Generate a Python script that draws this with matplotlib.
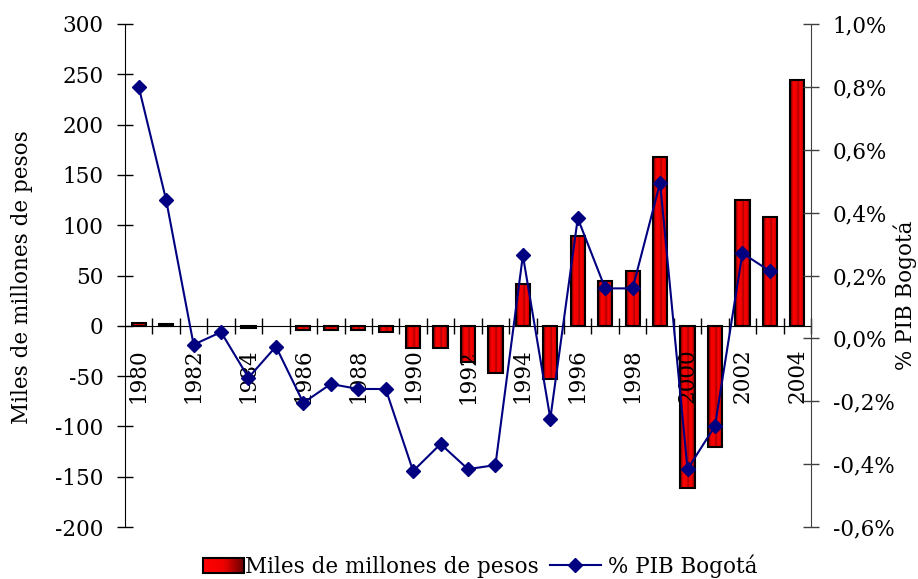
import numpy as np
import matplotlib
matplotlib.use("Agg")
import matplotlib.pyplot as plt
from matplotlib.colors import LinearSegmentedColormap
from matplotlib.patches import Rectangle
from matplotlib.lines import Line2D
from matplotlib.legend_handler import HandlerBase
from matplotlib.ticker import FuncFormatter

plt.rcParams['font.family'] = ['DejaVu Serif']
plt.rcParams['axes.unicode_minus'] = False

# Datos
years = list(range(1980, 2005))
miles_millones = [3, 1.5, 0, 0, -2, 0, -4, -4, -4, -6, -22, -22, -36, -47,
                  42, -53, 89, 45, 54, 168, -161, -120, 125, 108, 244]
pib_years = list(range(1980, 2004))
pct_pib = [0.80, 0.44, -0.02, 0.02, -0.125, -0.026, -0.205, -0.145, -0.161,
           -0.161, -0.422, -0.336, -0.416, -0.403, 0.264, -0.255, 0.382,
           0.159, 0.159, 0.495, -0.416, -0.279, 0.271, 0.214]

FS = 15.5
bar_cmap = LinearSegmentedColormap.from_list(
    'barras', [(0, '#5a0000'), (0.22, '#ff0000'), (0.45, '#f00000'),
               (0.55, '#a00000'), (0.65, '#ff0000'), (0.85, '#e00000'),
               (1, '#500000')])
leg_cmap = LinearSegmentedColormap.from_list('leyenda', ['#ff0000', '#f00000', '#6a0000'])


# Rectángulo con degradado para la leyenda
class GradHandler(HandlerBase):
    def create_artists(self, legend, orig_handle, xdescent, ydescent,
                       width, height, fontsize, trans):
        arts = []
        n = 40
        w = width * 0.8
        x0 = -xdescent + width - w + 4
        for i in range(n):
            arts.append(Rectangle((x0 + w * i / n, -ydescent),
                                  w / n + 0.2, height,
                                  facecolor=leg_cmap(i / (n - 1)),
                                  edgecolor='none', transform=trans))
        arts.append(Rectangle((x0, -ydescent), w, height,
                              facecolor='none', edgecolor='black', lw=1.5,
                              transform=trans))
        return arts


fig = plt.figure(figsize=(9.18, 5.79), dpi=100)
ax = fig.add_axes([125 / 918, 1 - 527 / 579, (811 - 125) / 918, 503 / 579])

x = np.arange(len(years))
bars = ax.bar(x, miles_millones, width=0.52, facecolor='none',
              edgecolor='black', linewidth=1.5, zorder=3)
grad = np.linspace(0, 1, 64).reshape(1, -1)
for b in bars:
    bx, by = b.get_x(), b.get_y()
    bw, bh = b.get_width(), b.get_height()
    if bh == 0:
        b.set_linewidth(0)
        continue
    im = ax.imshow(grad, extent=[bx, bx + bw, by, by + bh], aspect='auto',
                   cmap=bar_cmap, zorder=2, interpolation='bilinear')
    im.set_clip_path(b)

ax.set_xlim(-0.5, len(years) - 0.5)
ax.set_ylim(-200, 300)
ax.set_yticks(np.arange(-200, 301, 50))
ax.spines['top'].set_visible(False)
ax.spines['right'].set_visible(False)
ax.spines['bottom'].set_position(('data', 0))

ax.set_xticks(np.arange(0.5, len(years) - 0.4, 1))
ax.set_xticklabels([])
ax.tick_params(axis='x', which='major', direction='inout', length=11, width=1)
ax.tick_params(axis='y', direction='inout', length=11, width=1, pad=10,
               labelsize=FS)

# Etiquetas de años (cada dos), giradas, debajo de la línea de cero
for i in range(0, len(years), 2):
    ax.annotate(str(years[i]), xy=(x[i], 0), xytext=(0, -16.5),
                textcoords='offset points', rotation=90, ha='center',
                va='top', fontsize=FS)

ax2 = ax.twinx()
ax2.plot(np.arange(len(pib_years)), np.array(pct_pib) / 100, color='#000080',
         lw=1.5, marker='D', ms=7.5, zorder=5)
ax2.set_ylim(-0.006, 0.010)
ax2.set_yticks(np.arange(-0.006, 0.0101, 0.002))
ax2.yaxis.set_major_formatter(FuncFormatter(
    lambda v, p: f"{round(v * 100, 1) + 0.0:.1f}%".replace('.', ',')))
for s in ['top', 'left', 'bottom']:
    ax2.spines[s].set_visible(False)
ax2.spines['right'].set_color('#404040')
ax2.tick_params(axis='y', direction='inout', length=11, width=1, pad=10,
                labelsize=FS, color='#404040')

fig.text(22 / 918, 1 - 277 / 579, 'Miles de millones de pesos', rotation=90,
         ha='center', va='center', fontsize=FS)
fig.text(905 / 918, 1 - 295 / 579, '% PIB Bogotá', rotation=90,
         ha='center', va='center', fontsize=FS)

h1 = Rectangle((0, 0), 1, 1)
h2 = Line2D([], [], color='#000080', lw=1.5, marker='D', ms=7.5)
fig.legend([h1, h2], ['Miles de millones de pesos', '% PIB Bogotá'],
           loc='center', bbox_to_anchor=(472 / 918, 1 - 566 / 579), ncol=2,
           frameon=False, fontsize=FS, handlelength=2.4, handletextpad=0.3,
           columnspacing=0.5, handler_map={Rectangle: GradHandler()})

fig.savefig('out.png', dpi=100)
